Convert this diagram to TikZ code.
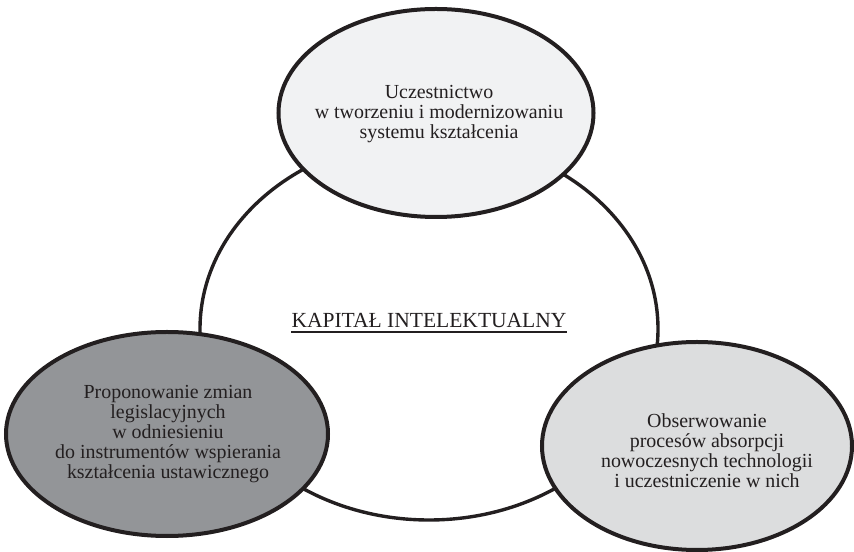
\documentclass[tikz,border=0pt]{standalone}
\usepackage{fontspec}
\setmainfont{Liberation Serif}
\usepackage{tikz}
\usetikzlibrary{shapes.geometric}
\usetikzlibrary{positioning}
\definecolor{ink}{HTML}{231F20}
\definecolor{paleFill}{HTML}{F1F2F3}
\definecolor{darkFill}{HTML}{939598}
\definecolor{midFill}{HTML}{DCDDDE}
\tikzstyle{pixel} = [x = {(0.5bp, 0bp)}, y = {(0bp, -0.5bp)}]

\begin{document}
\begin{tikzpicture}[pixel]
		% Styles
		\tikzstyle{ring} = [ellipse, draw = ink, line width = 1.7bp, inner sep = 0pt]
		\tikzstyle{blob} = [ellipse, draw = ink, line width = 2bp, inner sep = 0pt]
		\tikzstyle{txt} = [text = ink, align = center, font = \fontsize{10}{10}\selectfont]
		% Frame
		\useasboundingbox (0, 0) rectangle (854, 552);
		% Central ellipse
		\node[ring, minimum width = 229bp, minimum height = 191bp] (kapital) at (429, 329) {};
		\node[text = ink, anchor = base, inner sep = 0pt, font = \fontsize{10.8}{11}\selectfont] (kapitalText) at (429, 328) {KAPITAŁ INTELEKTUALNY};
		\draw[ink, line width = 1bp] ([yshift = -2bp]kapitalText.base west) -- ([yshift = -2bp]kapitalText.base east);
		% Outer ellipses
		\node[blob, fill = paleFill, minimum width = 157.5bp, minimum height = 104bp] (uczest) at (436, 113) {};
		\node[blob, fill = darkFill, minimum width = 161bp, minimum height = 102bp] (propon) at (167, 434) {};
		\node[blob, fill = midFill, minimum width = 155bp, minimum height = 104bp] (obserw) at (697, 446) {};
		% Texts
		\node[txt] (uczestText) at (439, 114) {Uczestnictwo\\ w tworzeniu i modernizowaniu\\ systemu kształcenia};
		\node[txt] (proponText) at (168, 434) {Proponowanie zmian\\ legislacyjnych\\ w odniesieniu\\ do instrumentów wspierania\\ kształcenia ustawicznego};
		\node[txt] (obserwText) at (707, 451) {Obserwowanie\\ procesów absorpcji\\ nowoczesnych technologii\\ i uczestniczenie w nich};
	\end{tikzpicture}
\end{document}
